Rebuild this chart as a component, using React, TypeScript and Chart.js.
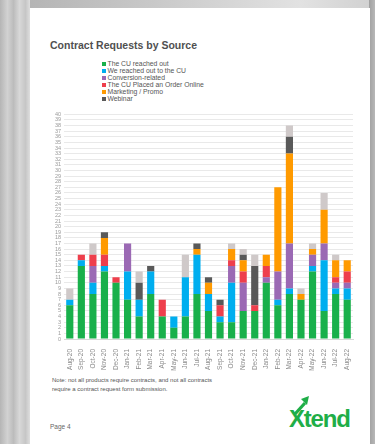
import React, { useEffect, useRef } from "react";
import { Chart, registerables } from "chart.js";

Chart.register(...registerables);

const months = [
  "Aug-20", "Sep-20", "Oct-20", "Nov-20", "Dec-20", "Jan-21", "Feb-21", "Mar-21", "Apr-21",
  "May-21", "Jun-21", "Jul-21", "Aug-21", "Sep-21", "Oct-21", "Nov-21", "Dec-21", "Jan-22",
  "Feb-22", "Mar-22", "Apr-22", "May-22", "Jun-22", "Jul-22", "Aug-22",
];

const cuReachedOut = [6, 13, 8, 12, 10, 7, 4, 8, 4, 2, 4, 8, 5, 3, 3, 5, 5, 10, 6, 8, 7, 12, 5, 8, 7];
const weReachedOut = [1, 1, 2, 1, 0, 5, 3, 4, 0, 2, 7, 7, 3, 1, 7, 0, 0, 0, 1, 1, 0, 1, 9, 1, 2];
const conversion = [0, 0, 3, 0, 0, 5, 0, 0, 0, 0, 0, 0, 0, 0, 3, 5, 0, 1, 5, 8, 0, 2, 3, 1, 1];
const placedOnline = [0, 1, 2, 2, 1, 0, 0, 0, 3, 0, 0, 0, 0, 2, 1, 2, 1, 2, 0, 0, 0, 0, 0, 1, 2];
const marketing = [0, 0, 0, 3, 0, 0, 0, 0, 0, 0, 0, 1, 2, 0, 2, 2, 0, 2, 15, 16, 1, 1, 6, 3, 2];
const webinar = [0, 0, 0, 1, 0, 0, 3, 1, 0, 0, 0, 1, 1, 1, 0, 1, 7, 0, 0, 3, 0, 0, 0, 0, 0];
const other = [2, 0, 2, 0, 0, 0, 2, 0, 0, 0, 4, 0, 0, 0, 1, 1, 2, 0, 0, 2, 1, 1, 3, 1, 0];

const seriesNames = [
  "The CU reached out",
  "We reached out to the CU",
  "Conversion-related",
  "The CU Placed an Order Online",
  "Marketing / Promo",
  "Webinar",
];
const seriesColors = ["#19b04b", "#00aeef", "#9b69b4", "#ee3f4c", "#ff9a00", "#595959"];
const otherColor = "#cfc9c9";

const yMax = 40;
const yTicks = Array.from({ length: yMax + 1 }, (_, i) => i);

export default function App() {
  const canvasRef = useRef<HTMLCanvasElement | null>(null);

  useEffect(() => {
    document.body.style.margin = "0";
    const values = [cuReachedOut, weReachedOut, conversion, placedOnline, marketing, webinar];
    const datasets: any[] = values.map((v, i) => ({
      label: seriesNames[i],
      data: v,
      backgroundColor: seriesColors[i],
      borderWidth: 0,
      barPercentage: 0.62,
      categoryPercentage: 1,
    }));
    datasets.push({
      label: "",
      data: other,
      backgroundColor: otherColor,
      borderWidth: 0,
      barPercentage: 0.62,
      categoryPercentage: 1,
    });
    const chart = new Chart(canvasRef.current!, {
      type: "bar",
      data: { labels: months, datasets },
      options: {
        animation: false,
        responsive: false,
        maintainAspectRatio: false,
        layout: { padding: { top: 6, right: 12, left: 0, bottom: 0 } },
        plugins: { legend: { display: false }, tooltip: { enabled: false } },
        scales: {
          x: {
            stacked: true,
            grid: { display: false },
            border: { display: true, color: "#d8d8d8" },
            ticks: {
              color: "#8a8a8a",
              font: { family: "Liberation Sans, Arial", size: 6.5 },
              minRotation: 90,
              maxRotation: 90,
              autoSkip: false,
              padding: 2,
            },
            afterFit: (s: any) => {
              s.height = 34;
            },
          },
          y: {
            stacked: true,
            min: 0,
            max: yMax,
            afterBuildTicks: (s: any) => {
              s.ticks = yTicks.map((v) => ({ value: v }));
            },
            grid: { color: "#e9e9e9", drawTicks: false, lineWidth: 1 },
            border: { display: false },
            ticks: {
              color: "#9a9a9a",
              font: { family: "Liberation Sans, Arial", size: 5.5 },
              autoSkip: false,
              padding: 3,
            },
            afterFit: (s: any) => {
              s.width = 24;
            },
          },
        },
      },
    });
    return () => chart.destroy();
  }, []);

  const font = "'Liberation Sans', Arial, sans-serif";

  return (
    <div style={{ position: "absolute", left: 0, top: 0, width: 375, height: 444, overflow: "hidden", background: "#c4c4c4", fontFamily: font }}>
      <div style={{ position: "absolute", left: 0, top: 0, width: 375, height: 10, background: "linear-gradient(to right, #b0b0b0, #c8c8c8 40%, #e2e2e2 80%, #d0d0d0)" }} />
      <div style={{ position: "absolute", left: 0, top: 0, width: 30, height: 444, background: "linear-gradient(to right, #b5b5b5, #d2d2d2 25%, #bcbcbc 45%, #d8d8d8 65%, #c6c6c6 85%, #dedede)" }} />
      <div style={{ position: "absolute", right: 0, top: 0, width: 6, height: 444, background: "linear-gradient(to right, #a0a0a0, #b8b8b8)" }} />
      <div style={{ position: "absolute", left: 30, top: 8, width: 340, height: 436, background: "#ffffff" }} />

      <div style={{ position: "absolute", left: 50, top: 39, fontSize: 10.5, fontWeight: 700, color: "#505050", whiteSpace: "nowrap" }}>
        Contract Requests by Source
      </div>

      <div style={{ position: "absolute", left: 102, top: 60 }}>
        {seriesNames.map((n, i) => (
          <div key={n} style={{ display: "flex", alignItems: "center", height: 7, fontSize: 6.8, color: "#555", whiteSpace: "nowrap", lineHeight: "7px" }}>
            <span style={{ display: "inline-block", width: 4, height: 4, background: seriesColors[i], marginRight: 1.5 }} />
            {n}
          </div>
        ))}
      </div>

      <canvas ref={canvasRef} width={325} height={265} style={{ position: "absolute", left: 40, top: 108, width: 325, height: 265 }} />

      <div style={{ position: "absolute", left: 52, top: 376, fontSize: 6, color: "#555", lineHeight: "8.5px", whiteSpace: "nowrap" }}>
        Note: not all products require contracts, and not all contracts
        <br />
        require a contract request form submission.
      </div>

      <div style={{ position: "absolute", left: 50, top: 423, fontSize: 6.5, color: "#666" }}>Page 4</div>

      <svg style={{ position: "absolute", left: 292, top: 394 }} width={22} height={22} viewBox="0 0 22 22">
        <path d="M3 20 L13 9" stroke="#1fae48" strokeWidth={3.2} fill="none" />
        <path d="M9 5 L17 2 L15 11 Z" fill="#1fae48" />
      </svg>
      <div style={{ position: "absolute", left: 289, top: 405, fontSize: 24, fontWeight: 700, color: "#1fae48", letterSpacing: -1.2, lineHeight: "28px" }}>
        Xtend
      </div>
    </div>
  );
}
